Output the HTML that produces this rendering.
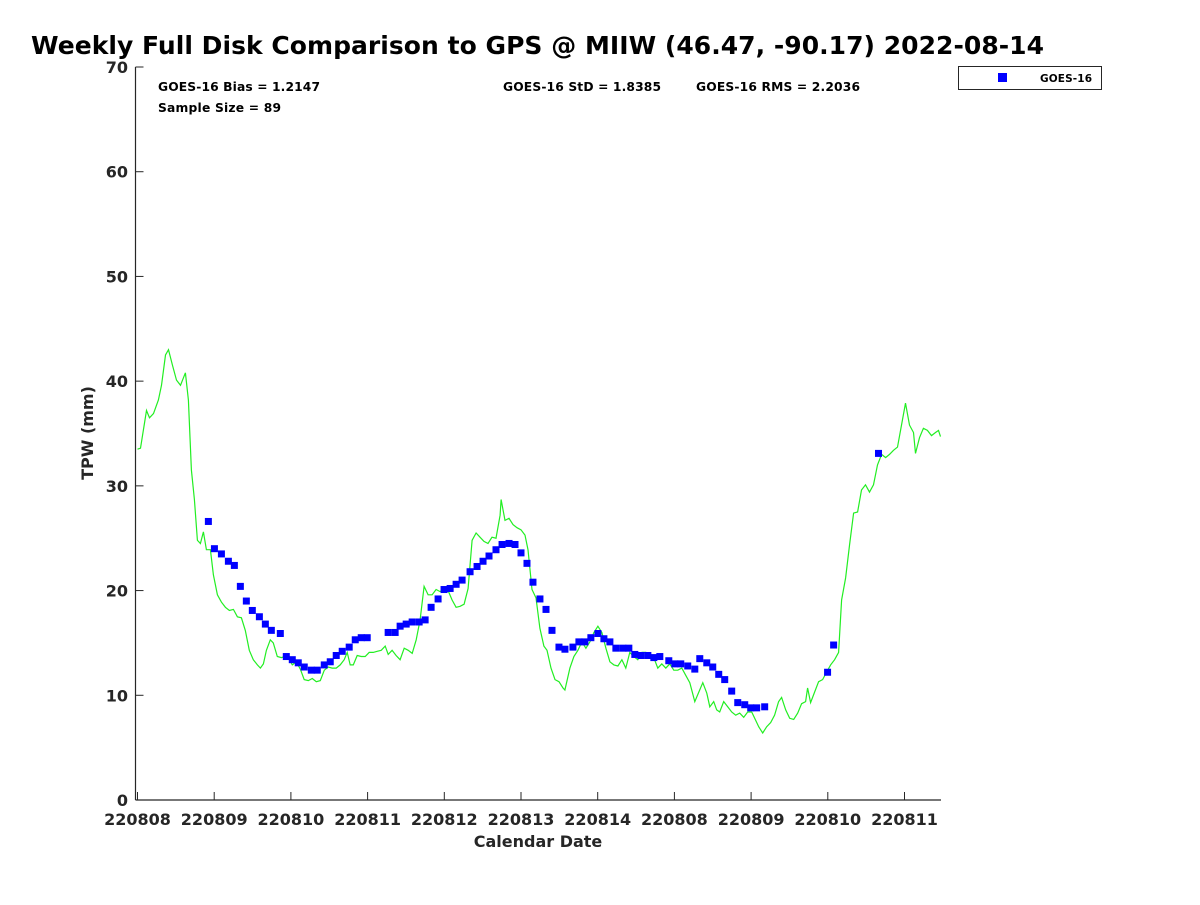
<!DOCTYPE html>
<html><head><meta charset="utf-8">
<style>
body{margin:0;background:#fff;}
svg text{font-family:"DejaVu Sans","Liberation Sans",sans-serif;font-weight:bold;fill:#262626;}
</style></head>
<body>
<svg id="chart" width="1200" height="900" xmlns="http://www.w3.org/2000/svg">
<rect width="1200" height="900" fill="#fff"/>
<text x="31" y="54" font-size="25" textLength="1013" style="fill:#000">Weekly Full Disk Comparison to GPS @ MIIW (46.47, -90.17) 2022-08-14</text>
<text x="158" y="91" font-size="12.3" textLength="162" style="fill:#000">GOES-16 Bias = 1.2147</text>
<text x="158" y="112" font-size="12.3" textLength="123" style="fill:#000">Sample Size = 89</text>
<text x="503" y="91" font-size="12.3" textLength="158" style="fill:#000">GOES-16 StD = 1.8385</text>
<text x="696" y="91" font-size="12.3" textLength="164" style="fill:#000">GOES-16 RMS = 2.2036</text>
<g>
<rect x="958.5" y="66.5" width="143" height="23" fill="#fff" stroke="#262626" stroke-width="1"/>
<rect x="998" y="73" width="9" height="9" fill="#0000ff"/>
<text x="1040" y="82" font-size="10.5" textLength="52" style="fill:#000">GOES-16</text>
</g>
<g id="axes"></g>
<g id="marks"></g>
<text x="538" y="847" font-size="16" text-anchor="middle">Calendar Date</text>
<text transform="translate(93,433) rotate(-90)" font-size="16" text-anchor="middle">TPW (mm)</text>
</svg>
<script>
const xTickLabels=["220808","220809","220810","220811","220812","220813","220814","220808","220809","220810","220811"];
const yTicks=[0,10,20,30,40,50,60,70];
const gpsTimes=[0.000,0.039,0.117,0.156,0.208,0.273,0.313,0.365,0.404,0.456,0.508,0.560,0.625,0.664,0.703,0.742,0.781,0.820,0.859,0.898,0.951,0.990,1.042,1.094,1.146,1.198,1.250,1.302,1.354,1.406,1.458,1.510,1.563,1.602,1.641,1.680,1.732,1.771,1.823,1.875,1.927,1.979,2.018,2.070,2.122,2.174,2.227,2.279,2.331,2.383,2.435,2.487,2.539,2.591,2.643,2.695,2.734,2.773,2.813,2.865,2.917,2.969,3.021,3.073,3.125,3.177,3.229,3.268,3.320,3.372,3.424,3.477,3.529,3.581,3.633,3.685,3.737,3.789,3.841,3.893,3.945,3.997,4.049,4.102,4.154,4.206,4.258,4.310,4.362,4.414,4.466,4.518,4.570,4.622,4.674,4.727,4.740,4.792,4.844,4.896,4.948,5.000,5.052,5.091,5.143,5.195,5.247,5.299,5.339,5.391,5.443,5.495,5.547,5.573,5.638,5.690,5.742,5.794,5.846,5.898,5.951,6.003,6.055,6.107,6.159,6.211,6.263,6.315,6.367,6.419,6.471,6.523,6.576,6.628,6.680,6.732,6.784,6.836,6.888,6.940,6.992,7.044,7.096,7.148,7.201,7.266,7.318,7.370,7.422,7.461,7.513,7.552,7.591,7.643,7.695,7.747,7.799,7.852,7.904,7.956,8.008,8.060,8.099,8.151,8.203,8.255,8.307,8.359,8.398,8.451,8.503,8.555,8.607,8.659,8.711,8.737,8.776,8.828,8.880,8.932,8.984,9.036,9.089,9.141,9.180,9.232,9.284,9.336,9.388,9.440,9.492,9.544,9.596,9.648,9.701,9.753,9.805,9.857,9.909,9.961,10.013,10.065,10.117,10.143,10.195,10.247,10.299,10.352,10.404,10.443,10.469];
const gpsValues=[33.5,33.6,37.2,36.5,36.9,38.2,39.6,42.5,43.0,41.5,40.1,39.6,40.8,38.2,31.5,28.7,24.8,24.5,25.6,23.9,23.9,21.5,19.6,18.9,18.4,18.1,18.2,17.5,17.4,16.2,14.3,13.4,12.9,12.6,13.0,14.3,15.3,15.0,13.7,13.6,13.7,13.4,12.9,13.2,12.5,11.5,11.4,11.6,11.3,11.4,12.4,12.7,12.6,12.6,12.9,13.4,14.1,12.9,12.9,13.8,13.7,13.7,14.1,14.1,14.2,14.3,14.7,13.9,14.3,13.8,13.4,14.5,14.3,14.0,15.3,17.2,20.4,19.6,19.6,20.1,19.9,20.2,20.0,19.1,18.4,18.5,18.7,20.2,24.8,25.5,25.1,24.7,24.5,25.1,25.0,27.2,28.7,26.7,26.9,26.3,26.0,25.8,25.3,23.9,20.1,19.3,16.4,14.7,14.3,12.6,11.5,11.3,10.7,10.5,12.6,13.7,14.3,15.1,14.5,15.1,16.0,16.6,16.0,14.5,13.2,12.9,12.8,13.4,12.6,14.1,13.7,13.4,14.1,14.1,13.7,13.6,12.6,13.0,12.6,13.0,12.4,12.4,12.6,11.9,11.2,9.4,10.3,11.2,10.2,8.9,9.4,8.6,8.4,9.4,8.9,8.4,8.1,8.3,7.9,8.4,8.4,7.6,7.0,6.4,7.0,7.4,8.1,9.4,9.8,8.6,7.8,7.7,8.3,9.2,9.4,10.7,9.3,10.3,11.3,11.5,12.2,12.9,13.4,14.1,19.1,21.2,24.4,27.4,27.5,29.6,30.1,29.4,30.1,32.0,33.0,32.7,33.0,33.4,33.7,35.8,37.9,35.8,35.1,33.1,34.6,35.5,35.3,34.8,35.1,35.3,34.7];
const goesTimes=[0.924,1.003,1.094,1.185,1.263,1.341,1.419,1.497,1.589,1.667,1.745,1.862,1.940,2.018,2.096,2.174,2.266,2.344,2.435,2.513,2.591,2.669,2.760,2.839,2.917,2.995,3.268,3.359,3.424,3.503,3.581,3.672,3.750,3.828,3.919,3.997,4.076,4.154,4.232,4.336,4.427,4.505,4.583,4.674,4.753,4.844,4.922,5.000,5.078,5.156,5.247,5.326,5.404,5.495,5.573,5.677,5.755,5.833,5.911,6.003,6.081,6.159,6.237,6.328,6.406,6.484,6.563,6.654,6.732,6.810,6.927,7.005,7.083,7.174,7.266,7.331,7.422,7.500,7.578,7.656,7.747,7.826,7.917,7.995,8.073,8.177,8.997,9.076,9.661];
const goesValues=[26.6,24.0,23.5,22.8,22.4,20.4,19.0,18.1,17.5,16.8,16.2,15.9,13.7,13.4,13.1,12.7,12.4,12.4,12.9,13.2,13.8,14.2,14.6,15.3,15.5,15.5,16.0,16.0,16.6,16.8,17.0,17.0,17.2,18.4,19.2,20.1,20.2,20.6,21.0,21.8,22.3,22.8,23.3,23.9,24.4,24.5,24.4,23.6,22.6,20.8,19.2,18.2,16.2,14.6,14.4,14.6,15.1,15.1,15.5,15.9,15.4,15.1,14.5,14.5,14.5,13.9,13.8,13.8,13.6,13.7,13.3,13.0,13.0,12.8,12.5,13.5,13.1,12.7,12.0,11.5,10.4,9.3,9.1,8.8,8.8,8.9,12.2,14.8,33.1];

const NS="http://www.w3.org/2000/svg";
const L=135.5,R=941,T=67,B=800,X0=137.5,XS=76.7;
const xs=d=>X0+d*XS;
const ys=v=>B-(v/70)*(B-T);
function mk(tag,attrs,parent){const e=document.createElementNS(NS,tag);for(const k in attrs)e.setAttribute(k,attrs[k]);parent.appendChild(e);return e;}
const axes=document.getElementById('axes'),marks=document.getElementById('marks');
let e=mk('line',{x1:L,y1:T,x2:L,y2:B,stroke:'#262626','stroke-width':1.2},axes);


e=mk('line',{x1:L,y1:B,x2:R,y2:B,stroke:'#262626','stroke-width':1.2},axes);


yTicks.forEach(v=>{
 const t=mk('line',{x1:L,y1:ys(v),x2:L+8,y2:ys(v),stroke:'#262626','stroke-width':1},axes);
 
 
 const l=mk('text',{x:128,y:ys(v)+6,'font-size':16,'text-anchor':'end'},axes);
 l.textContent=v;
 
 
});
xTickLabels.forEach((s,i)=>{
 const x=xs(i);
 const t=mk('line',{x1:x,y1:B,x2:x,y2:B-8,stroke:'#262626','stroke-width':1},axes);
 
 
 const l=mk('text',{x:x,y:825,'font-size':16,'text-anchor':'middle'},axes);
 l.textContent=s;
 
 
});
const pts=gpsTimes.map((t,i)=>xs(t).toFixed(1)+','+ys(gpsValues[i]).toFixed(1)).join(' ');
const pl=mk('polyline',{points:pts,fill:'none',stroke:'#22ee22','stroke-width':1.2},marks);


goesTimes.forEach((t,i)=>{
 const r=mk('rect',{x:xs(t)-3.5,y:ys(goesValues[i])-3.5,width:7,height:7,fill:'#0000ff'},marks);
 
 
});
</script>
</body></html>
